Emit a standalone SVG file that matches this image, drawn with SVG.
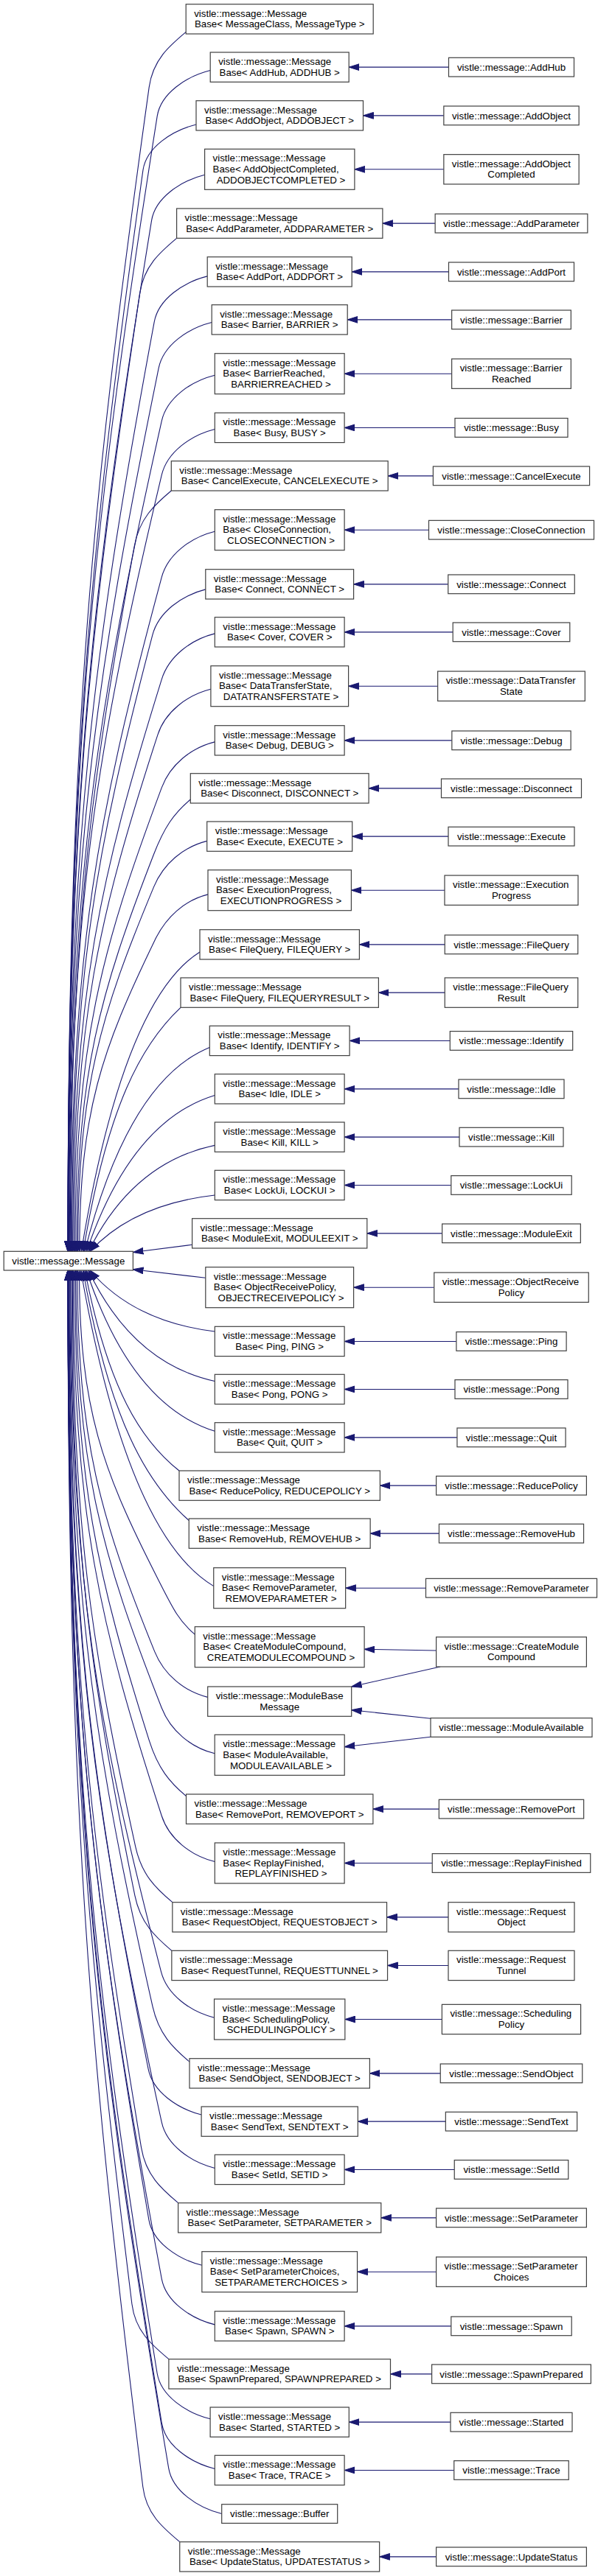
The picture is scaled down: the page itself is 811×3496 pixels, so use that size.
<svg xmlns="http://www.w3.org/2000/svg" width="811" height="3496" viewBox="0 0 811 3496">
<defs>
<marker id="ar" viewBox="0 0 14 10" refX="14" refY="5" markerWidth="14" markerHeight="10" markerUnits="userSpaceOnUse" orient="auto-start-reverse"><path d="M0,0.6 L14,5 L0,9.4 z" fill="#191970" stroke="#191970" stroke-width="1"/></marker>
</defs>
<style>
.n rect{fill:#fff;stroke:#404040;stroke-width:1.2}
text{font-family:"Liberation Sans",Arial,Helvetica,sans-serif;font-size:13.3px;fill:#000}
.c{text-anchor:middle}
#edges path{fill:none;stroke:#191970;stroke-width:1.1}
#edges .s{marker-start:url(#ar)}
#edges .t{marker-end:url(#ar)}
</style>
<rect x="0" y="0" width="811" height="3496" fill="#fff"/>
<g id="edges">
<path class="s" d="M92,1698.3 C92,987.4 125.1,671.4 202.2,118.45 C207.4,80.95 229.7,62.35 252.2,43.45"/>
<path class="s" d="M92,1698.3 C92,1005 128.4,696.8 213.2,157.55 C218.1,126.55 252.8,103.65 285.2,95.55"/>
<path class="s" d="M92,1698.3 C92,1038 122.6,744.5 193.95,230.95 C198.3,199.95 233.6,177.05 265.95,168.95"/>
<path class="s" d="M92,1698.3 C92,1068.75 126.05,788.95 205.55,299.3 C210.55,268.3 245.15,245.4 277.55,237.3"/>
<path class="s" d="M92.2,1698.3 C92.2,1113.3 121.4,853.3 189.55,398.3 C195.15,360.8 217.05,342.2 239.55,323.3"/>
<path class="s" d="M92.5,1698.3 C92.5,1130.65 127.5,878.35 209.2,436.85 C214.9,405.85 248.8,382.95 281.2,374.85"/>
<path class="s" d="M92.9,1698.3 C92.9,1158.8 129.6,919.05 215.2,499.45 C221.5,468.45 254.8,445.55 287.2,437.45"/>
<path class="s" d="M93.5,1698.3 C93.5,1191.1 131.2,965.7 219.3,571.2 C226.2,540.2 258.9,517.3 291.3,509.2"/>
<path class="s" d="M94.3,1698.3 C94.3,1224.1 131.8,1013.3 219.3,644.45 C226.7,613.45 258.9,590.55 291.3,582.45"/>
<path class="s" d="M95.3,1698.3 C95.3,1267.5 121.35,1076.1 182.25,741 C189.05,703.5 209.75,684.9 232.25,666"/>
<path class="s" d="M96.2,1698.3 C96.2,1286.5 133.1,1103.5 219.3,783.2 C227.6,752.2 258.9,729.3 291.3,721.2"/>
<path class="s" d="M97.5,1698.3 C97.5,1321.9 130.3,1154.6 206.8,861.85 C214.9,830.85 246.4,807.95 278.8,799.85"/>
<path class="s" d="M98.7,1698.3 C98.7,1348.9 134.9,1193.65 219.3,921.85 C228.9,890.85 258.9,867.95 291.3,859.85"/>
<path class="s" d="M100.3,1698.3 C100.3,1382.85 134.35,1242.65 213.85,997.3 C223.85,966.3 253.45,943.4 285.85,935.3"/>
<path class="s" d="M102,1698.3 C102,1415.05 137.2,1289.15 219.3,1068.85 C230.9,1037.85 258.9,1014.95 291.3,1006.85"/>
<path class="s" d="M104,1698.3 C104,1456.1 135.3,1348.4 208.3,1160 C222.8,1122.5 235.8,1103.9 258.3,1085"/>
<path class="s" d="M105.6,1698.3 C105.6,1475.6 136.5,1376.55 208.7,1203.35 C221.6,1172.35 248.3,1149.45 280.7,1141.35"/>
<path class="s" d="M107.8,1698.3 C107.8,1508.2 138.5,1423.7 210,1275.9 C225,1244.9 249.6,1222 282,1213.9"/>
<path class="s" d="M110.3,1698.3 C150.5,1454.5 206.7,1332.55 271,1291.95"/>
<path class="s" d="M112.9,1698.3 C145.9,1499.7 192.2,1416.95 245,1367.3"/>
<path class="s" d="M114.9,1698.3 C157.25,1532.2 216.5,1449.15 284.3,1421.45"/>
<path class="s" d="M117.4,1698.3 C160.9,1571.25 221.7,1507.75 291.3,1486.55"/>
<path class="s" d="M120.1,1698.3 C162.9,1611.9 222.8,1568.75 291.3,1554.35"/>
<path class="s" d="M122,1698.3 C164.3,1652.55 223.6,1629.65 291.3,1622.05"/>
<path class="s" d="M180.4,1699.5 L260.6,1689.3"/>
<path class="s" d="M180.4,1722.8 L278.8,1734.3"/>
<path class="s" d="M122,1724 C164.3,1773.8 223.6,1798.75 291.3,1807.05"/>
<path class="s" d="M119.9,1724 C162.75,1814.3 222.7,1859.5 291.3,1874.55"/>
<path class="s" d="M117.1,1724 C160.65,1855 221.6,1920.55 291.3,1942.35"/>
<path class="s" d="M115.1,1724 C147.1,1887.2 191.8,1955.2 243,1996"/>
<path class="s" d="M112.6,1724 C148.5,1927.7 198.8,2012.65 256.25,2063.55"/>
<path class="s" d="M109.6,1724 C154.6,1981.2 217.7,2109.7 289.75,2152.6"/>
<path class="s" d="M107.5,1724 C107.5,1912.6 139.5,1996.5 214.3,2143.2 C233.4,2180.7 241.8,2199.3 264.3,2218.2"/>
<path class="s" d="M105,1724 C105,1956.8 136.4,2060.25 209.7,2241.35 C222.2,2272.35 249.3,2295.25 281.7,2303.35"/>
<path class="s" d="M102.9,1724 C102.9,1991.2 137.8,2110 219.2,2317.8 C231.3,2348.8 258.8,2371.7 291.2,2379.8"/>
<path class="s" d="M101.5,1724 C101.5,2011.4 131.8,2139.15 202.5,2362.65 C214.4,2400.15 230,2418.75 252.5,2437.65"/>
<path class="s" d="M99.4,1724 C99.4,2057.2 135.4,2205.3 219.3,2464.5 C229.3,2495.5 258.9,2518.4 291.3,2526.5"/>
<path class="s" d="M98.3,1724 C98.3,2076.2 123.95,2232.8 183.85,2506.7 C192.05,2544.2 211.35,2562.8 233.85,2581.7"/>
<path class="s" d="M97.1,1724 C97.1,2105.7 122.85,2275.4 182.85,2572.3 C190.45,2609.8 210.35,2628.4 232.85,2647.3"/>
<path class="s" d="M95.6,1724 C95.6,2152.5 132.45,2342.9 218.55,2676.2 C226.55,2707.2 258.15,2730.1 290.55,2738.2"/>
<path class="s" d="M94.8,1724 C94.8,2173.6 128.5,2373.45 207,2723.15 C215.4,2760.65 234.5,2779.25 257,2798.15"/>
<path class="s" d="M93.9,1724 C93.9,2211.8 126.1,2428.55 201.1,2807.95 C207.2,2838.95 240.7,2861.85 273.1,2869.95"/>
<path class="s" d="M93.2,1724 C93.2,2244.4 131,2475.65 219.3,2880.45 C226.1,2911.45 258.9,2934.35 291.3,2942.45"/>
<path class="s" d="M92.8,1724 C92.8,2259.8 122.4,2498 191.6,2914.7 C197.8,2952.2 219.1,2970.8 241.6,2989.7"/>
<path class="s" d="M92.3,1724 C92.3,2303.7 125.15,2561.4 201.85,3012.3 C207.15,3043.3 241.45,3066.2 273.85,3074.3"/>
<path class="s" d="M92.1,1724 C92.1,2340 130.3,2613.75 219.3,3092.85 C225.1,3123.85 258.9,3146.75 291.3,3154.85"/>
<path class="s" d="M92,1724 C92,2355.2 118.1,2635.7 178.9,3126.7 C183.5,3164.2 206.4,3182.8 228.9,3201.7"/>
<path class="s" d="M92,1724 C92,2397.5 128.3,2696.85 213.1,3220.75 C218.1,3251.75 252.7,3274.65 285.1,3282.75"/>
<path class="s" d="M92,1724 C92,2428 130.2,2740.85 219.3,3288.45 C224.3,3319.45 258.9,3342.35 291.3,3350.45"/>
<path class="s" d="M92,1724 C92,2455.5 133,2780.65 228.7,3349.55 C233.9,3380.55 268.3,3403.45 300.7,3411.55"/>
<path class="s" d="M92,1724 C92,2466.8 122.55,2797 193.75,3374.7 C198.35,3412.2 221.25,3430.8 243.75,3449.7"/>
<path class="t" d="M608.5,91.15 L473.2,91.15"/>
<path class="t" d="M601.85,156.85 L492.5,156.85"/>
<path class="t" d="M601.85,229.8 L480.9,229.8"/>
<path class="t" d="M590.15,303.15 L518.9,303.15"/>
<path class="t" d="M608.5,368.85 L477.2,368.85"/>
<path class="t" d="M612.65,433.85 L471.2,433.85"/>
<path class="t" d="M612.65,507.2 L467.1,507.2"/>
<path class="t" d="M617,580.45 L467.1,580.45"/>
<path class="t" d="M587.4,645.85 L526.2,645.85"/>
<path class="t" d="M581.5,719.2 L467.1,719.2"/>
<path class="t" d="M607.75,792.85 L479.6,792.85"/>
<path class="t" d="M614.2,857.85 L467.1,857.85"/>
<path class="t" d="M593.65,931.2 L472.6,931.2"/>
<path class="t" d="M612.85,1004.85 L467.1,1004.85"/>
<path class="t" d="M598.5,1069.85 L500.1,1069.85"/>
<path class="t" d="M608,1135.15 L477.7,1135.15"/>
<path class="t" d="M603,1208.2 L476.4,1208.2"/>
<path class="t" d="M603.25,1281.85 L487.4,1281.85"/>
<path class="t" d="M603.25,1347.15 L513.4,1347.15"/>
<path class="t" d="M610.3,1412.45 L474.1,1412.45"/>
<path class="t" d="M622,1477.85 L467.1,1477.85"/>
<path class="t" d="M623,1543.15 L467.1,1543.15"/>
<path class="t" d="M611.8,1608.45 L467.1,1608.45"/>
<path class="t" d="M599.65,1673.85 L497.8,1673.85"/>
<path class="t" d="M588.75,1747.2 L479.6,1747.2"/>
<path class="t" d="M618.9,1820.45 L467.1,1820.45"/>
<path class="t" d="M617,1885.45 L467.1,1885.45"/>
<path class="t" d="M619.95,1950.85 L467.1,1950.85"/>
<path class="t" d="M591.6,2016.15 L515.4,2016.15"/>
<path class="t" d="M595.45,2081.15 L502.15,2081.15"/>
<path class="t" d="M577.5,2155.2 L468.65,2155.2"/>
<path class="t" d="M591.6,2240 L494.1,2238.3"/>
<path class="t" d="M597,2262 L476.7,2289"/>
<path class="t" d="M584,2332.3 L476.7,2320.7"/>
<path class="t" d="M584,2357.3 L467.2,2370.7"/>
<path class="t" d="M595.35,2455.15 L505.9,2455.15"/>
<path class="t" d="M586.25,2528.5 L467.1,2528.5"/>
<path class="t" d="M608,2601.85 L524.55,2601.85"/>
<path class="t" d="M608,2667.45 L525.55,2667.45"/>
<path class="t" d="M599.4,2740.5 L467.85,2740.5"/>
<path class="t" d="M597.25,2813.85 L501.4,2813.85"/>
<path class="t" d="M604.35,2879.15 L485.3,2879.15"/>
<path class="t" d="M616.25,2944.45 L467.1,2944.45"/>
<path class="t" d="M591.6,3009.85 L516.8,3009.85"/>
<path class="t" d="M591.6,3083.2 L484.55,3083.2"/>
<path class="t" d="M611.8,3156.85 L467.1,3156.85"/>
<path class="t" d="M585.6,3221.85 L529.5,3221.85"/>
<path class="t" d="M611,3287.15 L473.3,3287.15"/>
<path class="t" d="M615.75,3352.45 L467.1,3352.45"/>
<path class="t" d="M591.6,3469.85 L514.65,3469.85"/>
</g>
<g id="root" class="n"><rect x="5.2" y="1698.3" width="175.2" height="25.7"/><text class="c" x="92.8" y="1715.85">vistle::message::Message</text></g>
<g id="mb-messagetype" class="n"><rect x="252.2" y="5.7" width="254" height="40.3"/><text x="263.2" y="22.6">vistle::message::Message</text><text class="c" x="379.2" y="37.3">Base&lt; MessageClass, MessageType &gt;</text></g>
<g id="mb-addhub" class="n"><rect x="285.2" y="71" width="188" height="40.3"/><text x="296.2" y="87.9">vistle::message::Message</text><text class="c" x="379.2" y="102.6">Base&lt; AddHub, ADDHUB &gt;</text></g>
<g id="mb-addobject" class="n"><rect x="266" y="136.7" width="226.5" height="40.3"/><text x="277" y="153.6">vistle::message::Message</text><text class="c" x="379.2" y="168.3">Base&lt; AddObject, ADDOBJECT &gt;</text></g>
<g id="mb-addobjectcompleted" class="n"><rect x="277.6" y="202.3" width="203.3" height="55"/><text x="288.6" y="219.2">vistle::message::Message</text><text x="288.6" y="233.9">Base&lt; AddObjectCompleted,</text><text class="c" x="381" y="248.6">ADDOBJECTCOMPLETED &gt;</text></g>
<g id="mb-addparameter" class="n"><rect x="239.6" y="283" width="279.3" height="40.3"/><text x="250.6" y="299.9">vistle::message::Message</text><text class="c" x="379.2" y="314.6">Base&lt; AddParameter, ADDPARAMETER &gt;</text></g>
<g id="mb-addport" class="n"><rect x="281.2" y="348.7" width="196" height="40.3"/><text x="292.2" y="365.6">vistle::message::Message</text><text class="c" x="379.2" y="380.3">Base&lt; AddPort, ADDPORT &gt;</text></g>
<g id="mb-barrier" class="n"><rect x="287.2" y="413.7" width="184" height="40.3"/><text x="298.2" y="430.6">vistle::message::Message</text><text class="c" x="379.2" y="445.3">Base&lt; Barrier, BARRIER &gt;</text></g>
<g id="mb-barrierreached" class="n"><rect x="291.3" y="479.7" width="175.8" height="55"/><text x="302.3" y="496.6">vistle::message::Message</text><text x="302.3" y="511.3">Base&lt; BarrierReached,</text><text class="c" x="381" y="526">BARRIERREACHED &gt;</text></g>
<g id="mb-busy" class="n"><rect x="291.3" y="560.3" width="175.8" height="40.3"/><text x="302.3" y="577.2">vistle::message::Message</text><text class="c" x="379.2" y="591.9">Base&lt; Busy, BUSY &gt;</text></g>
<g id="mb-cancelexecute" class="n"><rect x="232.3" y="625.7" width="293.9" height="40.3"/><text x="243.3" y="642.6">vistle::message::Message</text><text class="c" x="379.2" y="657.3">Base&lt; CancelExecute, CANCELEXECUTE &gt;</text></g>
<g id="mb-closeconnection" class="n"><rect x="291.3" y="691.7" width="175.8" height="55"/><text x="302.3" y="708.6">vistle::message::Message</text><text x="302.3" y="723.3">Base&lt; CloseConnection,</text><text class="c" x="381" y="738">CLOSECONNECTION &gt;</text></g>
<g id="mb-connect" class="n"><rect x="278.8" y="772.7" width="200.8" height="40.3"/><text x="289.8" y="789.6">vistle::message::Message</text><text class="c" x="379.2" y="804.3">Base&lt; Connect, CONNECT &gt;</text></g>
<g id="mb-cover" class="n"><rect x="291.3" y="837.7" width="175.8" height="40.3"/><text x="302.3" y="854.6">vistle::message::Message</text><text class="c" x="379.2" y="869.3">Base&lt; Cover, COVER &gt;</text></g>
<g id="mb-datatransferstate" class="n"><rect x="285.9" y="903.7" width="186.7" height="55"/><text x="296.9" y="920.6">vistle::message::Message</text><text x="296.9" y="935.3">Base&lt; DataTransferState,</text><text class="c" x="381" y="950">DATATRANSFERSTATE &gt;</text></g>
<g id="mb-debug" class="n"><rect x="291.3" y="984.7" width="175.8" height="40.3"/><text x="302.3" y="1001.6">vistle::message::Message</text><text class="c" x="379.2" y="1016.3">Base&lt; Debug, DEBUG &gt;</text></g>
<g id="mb-disconnect" class="n"><rect x="258.3" y="1049.7" width="241.8" height="40.3"/><text x="269.3" y="1066.6">vistle::message::Message</text><text class="c" x="379.2" y="1081.3">Base&lt; Disconnect, DISCONNECT &gt;</text></g>
<g id="mb-execute" class="n"><rect x="280.7" y="1115" width="197" height="40.3"/><text x="291.7" y="1131.9">vistle::message::Message</text><text class="c" x="379.2" y="1146.6">Base&lt; Execute, EXECUTE &gt;</text></g>
<g id="mb-executionprogress" class="n"><rect x="282" y="1180.7" width="194.4" height="55"/><text x="293" y="1197.6">vistle::message::Message</text><text x="293" y="1212.3">Base&lt; ExecutionProgress,</text><text class="c" x="381" y="1227">EXECUTIONPROGRESS &gt;</text></g>
<g id="mb-filequery" class="n"><rect x="271" y="1261.7" width="216.4" height="40.3"/><text x="282" y="1278.6">vistle::message::Message</text><text class="c" x="379.2" y="1293.3">Base&lt; FileQuery, FILEQUERY &gt;</text></g>
<g id="mb-filequeryresult" class="n"><rect x="245" y="1327" width="268.4" height="40.3"/><text x="256" y="1343.9">vistle::message::Message</text><text class="c" x="379.2" y="1358.6">Base&lt; FileQuery, FILEQUERYRESULT &gt;</text></g>
<g id="mb-identify" class="n"><rect x="284.3" y="1392.3" width="189.8" height="40.3"/><text x="295.3" y="1409.2">vistle::message::Message</text><text class="c" x="379.2" y="1423.9">Base&lt; Identify, IDENTIFY &gt;</text></g>
<g id="mb-idle" class="n"><rect x="291.3" y="1457.7" width="175.8" height="40.3"/><text x="302.3" y="1474.6">vistle::message::Message</text><text class="c" x="379.2" y="1489.3">Base&lt; Idle, IDLE &gt;</text></g>
<g id="mb-kill" class="n"><rect x="291.3" y="1523" width="175.8" height="40.3"/><text x="302.3" y="1539.9">vistle::message::Message</text><text class="c" x="379.2" y="1554.6">Base&lt; Kill, KILL &gt;</text></g>
<g id="mb-lockui" class="n"><rect x="291.3" y="1588.3" width="175.8" height="40.3"/><text x="302.3" y="1605.2">vistle::message::Message</text><text class="c" x="379.2" y="1619.9">Base&lt; LockUi, LOCKUI &gt;</text></g>
<g id="mb-moduleexit" class="n"><rect x="260.6" y="1653.7" width="237.2" height="40.3"/><text x="271.6" y="1670.6">vistle::message::Message</text><text class="c" x="379.2" y="1685.3">Base&lt; ModuleExit, MODULEEXIT &gt;</text></g>
<g id="mb-objectreceivepolicy" class="n"><rect x="278.8" y="1719.7" width="200.8" height="55"/><text x="289.8" y="1736.6">vistle::message::Message</text><text x="289.8" y="1751.3">Base&lt; ObjectReceivePolicy,</text><text class="c" x="381" y="1766">OBJECTRECEIVEPOLICY &gt;</text></g>
<g id="mb-ping" class="n"><rect x="291.3" y="1800.3" width="175.8" height="40.3"/><text x="302.3" y="1817.2">vistle::message::Message</text><text class="c" x="379.2" y="1831.9">Base&lt; Ping, PING &gt;</text></g>
<g id="mb-pong" class="n"><rect x="291.3" y="1865.3" width="175.8" height="40.3"/><text x="302.3" y="1882.2">vistle::message::Message</text><text class="c" x="379.2" y="1896.9">Base&lt; Pong, PONG &gt;</text></g>
<g id="mb-quit" class="n"><rect x="291.3" y="1930.7" width="175.8" height="40.3"/><text x="302.3" y="1947.6">vistle::message::Message</text><text class="c" x="379.2" y="1962.3">Base&lt; Quit, QUIT &gt;</text></g>
<g id="mb-reducepolicy" class="n"><rect x="243" y="1996" width="272.4" height="40.3"/><text x="254" y="2012.9">vistle::message::Message</text><text class="c" x="379.2" y="2027.6">Base&lt; ReducePolicy, REDUCEPOLICY &gt;</text></g>
<g id="mb-removehub" class="n"><rect x="256.25" y="2061" width="245.9" height="40.3"/><text x="267.25" y="2077.9">vistle::message::Message</text><text class="c" x="379.2" y="2092.6">Base&lt; RemoveHub, REMOVEHUB &gt;</text></g>
<g id="mb-removeparameter" class="n"><rect x="289.75" y="2127.7" width="178.9" height="55"/><text x="300.75" y="2144.6">vistle::message::Message</text><text x="300.75" y="2159.3">Base&lt; RemoveParameter,</text><text class="c" x="381" y="2174">REMOVEPARAMETER &gt;</text></g>
<g id="mb-createmodulecompound" class="n"><rect x="264.3" y="2207.7" width="229.8" height="55"/><text x="275.3" y="2224.6">vistle::message::Message</text><text x="275.3" y="2239.3">Base&lt; CreateModuleCompound,</text><text class="c" x="381" y="2254">CREATEMODULECOMPOUND &gt;</text></g>
<g id="modulebasemessage" class="n"><rect x="281.7" y="2289" width="195" height="40.3"/><text x="292.7" y="2305.9">vistle::message::ModuleBase</text><text class="c" x="379.2" y="2320.6">Message</text></g>
<g id="mb-moduleavailable" class="n"><rect x="291.2" y="2354.3" width="176" height="55"/><text x="302.2" y="2371.2">vistle::message::Message</text><text x="302.2" y="2385.9">Base&lt; ModuleAvailable,</text><text class="c" x="381" y="2400.6">MODULEAVAILABLE &gt;</text></g>
<g id="mb-removeport" class="n"><rect x="252.5" y="2435" width="253.4" height="40.3"/><text x="263.5" y="2451.9">vistle::message::Message</text><text class="c" x="379.2" y="2466.6">Base&lt; RemovePort, REMOVEPORT &gt;</text></g>
<g id="mb-replayfinished" class="n"><rect x="291.3" y="2501" width="175.8" height="55"/><text x="302.3" y="2517.9">vistle::message::Message</text><text x="302.3" y="2532.6">Base&lt; ReplayFinished,</text><text class="c" x="381" y="2547.3">REPLAYFINISHED &gt;</text></g>
<g id="mb-requestobject" class="n"><rect x="233.85" y="2581.7" width="290.7" height="40.3"/><text x="244.85" y="2598.6">vistle::message::Message</text><text class="c" x="379.2" y="2613.3">Base&lt; RequestObject, REQUESTOBJECT &gt;</text></g>
<g id="mb-requesttunnel" class="n"><rect x="232.85" y="2647.3" width="292.7" height="40.3"/><text x="243.85" y="2664.2">vistle::message::Message</text><text class="c" x="379.2" y="2678.9">Base&lt; RequestTunnel, REQUESTTUNNEL &gt;</text></g>
<g id="mb-schedulingpolicy" class="n"><rect x="290.55" y="2713" width="177.3" height="55"/><text x="301.55" y="2729.9">vistle::message::Message</text><text x="301.55" y="2744.6">Base&lt; SchedulingPolicy,</text><text class="c" x="381" y="2759.3">SCHEDULINGPOLICY &gt;</text></g>
<g id="mb-sendobject" class="n"><rect x="257" y="2793.7" width="244.4" height="40.3"/><text x="268" y="2810.6">vistle::message::Message</text><text class="c" x="379.2" y="2825.3">Base&lt; SendObject, SENDOBJECT &gt;</text></g>
<g id="mb-sendtext" class="n"><rect x="273.1" y="2859" width="212.2" height="40.3"/><text x="284.1" y="2875.9">vistle::message::Message</text><text class="c" x="379.2" y="2890.6">Base&lt; SendText, SENDTEXT &gt;</text></g>
<g id="mb-setid" class="n"><rect x="291.3" y="2924.3" width="175.8" height="40.3"/><text x="302.3" y="2941.2">vistle::message::Message</text><text class="c" x="379.2" y="2955.9">Base&lt; SetId, SETID &gt;</text></g>
<g id="mb-setparameter" class="n"><rect x="241.6" y="2989.7" width="275.2" height="40.3"/><text x="252.6" y="3006.6">vistle::message::Message</text><text class="c" x="379.2" y="3021.3">Base&lt; SetParameter, SETPARAMETER &gt;</text></g>
<g id="mb-setparameterchoices" class="n"><rect x="273.85" y="3055.7" width="210.7" height="55"/><text x="284.85" y="3072.6">vistle::message::Message</text><text x="284.85" y="3087.3">Base&lt; SetParameterChoices,</text><text class="c" x="381" y="3102">SETPARAMETERCHOICES &gt;</text></g>
<g id="mb-spawn" class="n"><rect x="291.3" y="3136.7" width="175.8" height="40.3"/><text x="302.3" y="3153.6">vistle::message::Message</text><text class="c" x="379.2" y="3168.3">Base&lt; Spawn, SPAWN &gt;</text></g>
<g id="mb-spawnprepared" class="n"><rect x="228.9" y="3201.7" width="300.6" height="40.3"/><text x="239.9" y="3218.6">vistle::message::Message</text><text class="c" x="379.2" y="3233.3">Base&lt; SpawnPrepared, SPAWNPREPARED &gt;</text></g>
<g id="mb-started" class="n"><rect x="285.1" y="3267" width="188.2" height="40.3"/><text x="296.1" y="3283.9">vistle::message::Message</text><text class="c" x="379.2" y="3298.6">Base&lt; Started, STARTED &gt;</text></g>
<g id="mb-trace" class="n"><rect x="291.3" y="3332.3" width="175.8" height="40.3"/><text x="302.3" y="3349.2">vistle::message::Message</text><text class="c" x="379.2" y="3363.9">Base&lt; Trace, TRACE &gt;</text></g>
<g id="buffer" class="n"><rect x="300.7" y="3398.7" width="157" height="25.7"/><text class="c" x="379.2" y="3416.25">vistle::message::Buffer</text></g>
<g id="mb-updatestatus" class="n"><rect x="243.75" y="3449.7" width="270.9" height="40.3"/><text x="254.75" y="3466.6">vistle::message::Message</text><text class="c" x="379.2" y="3481.3">Base&lt; UpdateStatus, UPDATESTATUS &gt;</text></g>
<g id="addhub" class="n"><rect x="608.5" y="78.3" width="170" height="25.7"/><text class="c" x="693.5" y="95.85">vistle::message::AddHub</text></g>
<g id="addobject" class="n"><rect x="601.85" y="144" width="183.3" height="25.7"/><text class="c" x="693.5" y="161.55">vistle::message::AddObject</text></g>
<g id="addobjectcompleted" class="n"><rect x="601.85" y="209.65" width="183.3" height="40.3"/><text x="612.85" y="226.55">vistle::message::AddObject</text><text class="c" x="693.5" y="241.25">Completed</text></g>
<g id="addparameter" class="n"><rect x="590.15" y="290.3" width="206.7" height="25.7"/><text class="c" x="693.5" y="307.85">vistle::message::AddParameter</text></g>
<g id="addport" class="n"><rect x="608.5" y="356" width="170" height="25.7"/><text class="c" x="693.5" y="373.55">vistle::message::AddPort</text></g>
<g id="barrier" class="n"><rect x="612.65" y="421" width="161.7" height="25.7"/><text class="c" x="693.5" y="438.55">vistle::message::Barrier</text></g>
<g id="barrierreached" class="n"><rect x="612.65" y="487.05" width="161.7" height="40.3"/><text x="623.65" y="503.95">vistle::message::Barrier</text><text class="c" x="693.5" y="518.65">Reached</text></g>
<g id="busy" class="n"><rect x="617" y="567.6" width="153" height="25.7"/><text class="c" x="693.5" y="585.15">vistle::message::Busy</text></g>
<g id="cancelexecute" class="n"><rect x="587.4" y="633" width="212.2" height="25.7"/><text class="c" x="693.5" y="650.55">vistle::message::CancelExecute</text></g>
<g id="closeconnection" class="n"><rect x="581.5" y="706.35" width="224" height="25.7"/><text class="c" x="693.5" y="723.9">vistle::message::CloseConnection</text></g>
<g id="connect" class="n"><rect x="607.75" y="780" width="171.5" height="25.7"/><text class="c" x="693.5" y="797.55">vistle::message::Connect</text></g>
<g id="cover" class="n"><rect x="614.2" y="845" width="158.6" height="25.7"/><text class="c" x="693.5" y="862.55">vistle::message::Cover</text></g>
<g id="datatransferstate" class="n"><rect x="593.65" y="911.05" width="199.7" height="40.3"/><text x="604.65" y="927.95">vistle::message::DataTransfer</text><text class="c" x="693.5" y="942.65">State</text></g>
<g id="debug" class="n"><rect x="612.85" y="992" width="161.3" height="25.7"/><text class="c" x="693.5" y="1009.55">vistle::message::Debug</text></g>
<g id="disconnect" class="n"><rect x="598.5" y="1057" width="190" height="25.7"/><text class="c" x="693.5" y="1074.55">vistle::message::Disconnect</text></g>
<g id="execute" class="n"><rect x="608" y="1122.3" width="171" height="25.7"/><text class="c" x="693.5" y="1139.85">vistle::message::Execute</text></g>
<g id="executionprogress" class="n"><rect x="603" y="1188.05" width="181" height="40.3"/><text x="614" y="1204.95">vistle::message::Execution</text><text class="c" x="693.5" y="1219.65">Progress</text></g>
<g id="filequery" class="n"><rect x="603.25" y="1269" width="180.5" height="25.7"/><text class="c" x="693.5" y="1286.55">vistle::message::FileQuery</text></g>
<g id="filequeryresult" class="n"><rect x="603.25" y="1327" width="180.5" height="40.3"/><text x="614.25" y="1343.9">vistle::message::FileQuery</text><text class="c" x="693.5" y="1358.6">Result</text></g>
<g id="identify" class="n"><rect x="610.3" y="1399.6" width="166.4" height="25.7"/><text class="c" x="693.5" y="1417.15">vistle::message::Identify</text></g>
<g id="idle" class="n"><rect x="622" y="1465" width="143" height="25.7"/><text class="c" x="693.5" y="1482.55">vistle::message::Idle</text></g>
<g id="kill" class="n"><rect x="623" y="1530.3" width="141" height="25.7"/><text class="c" x="693.5" y="1547.85">vistle::message::Kill</text></g>
<g id="lockui" class="n"><rect x="611.8" y="1595.6" width="163.4" height="25.7"/><text class="c" x="693.5" y="1613.15">vistle::message::LockUi</text></g>
<g id="moduleexit" class="n"><rect x="599.65" y="1661" width="187.7" height="25.7"/><text class="c" x="693.5" y="1678.55">vistle::message::ModuleExit</text></g>
<g id="objectreceivepolicy" class="n"><rect x="588.75" y="1727.05" width="209.5" height="40.3"/><text x="599.75" y="1743.95">vistle::message::ObjectReceive</text><text class="c" x="693.5" y="1758.65">Policy</text></g>
<g id="ping" class="n"><rect x="618.9" y="1807.6" width="149.2" height="25.7"/><text class="c" x="693.5" y="1825.15">vistle::message::Ping</text></g>
<g id="pong" class="n"><rect x="617" y="1872.6" width="153" height="25.7"/><text class="c" x="693.5" y="1890.15">vistle::message::Pong</text></g>
<g id="quit" class="n"><rect x="619.95" y="1938" width="147.1" height="25.7"/><text class="c" x="693.5" y="1955.55">vistle::message::Quit</text></g>
<g id="reducepolicy" class="n"><rect x="591.6" y="2003.3" width="203.8" height="25.7"/><text class="c" x="693.5" y="2020.85">vistle::message::ReducePolicy</text></g>
<g id="removehub" class="n"><rect x="595.45" y="2068.3" width="196.1" height="25.7"/><text class="c" x="693.5" y="2085.85">vistle::message::RemoveHub</text></g>
<g id="removeparameter" class="n"><rect x="577.5" y="2142.35" width="232" height="25.7"/><text class="c" x="693.5" y="2159.9">vistle::message::RemoveParameter</text></g>
<g id="createmodulecompound" class="n"><rect x="591.6" y="2221.7" width="203.8" height="40.3"/><text x="602.6" y="2238.6">vistle::message::CreateModule</text><text class="c" x="693.5" y="2253.3">Compound</text></g>
<g id="moduleavailable" class="n"><rect x="584" y="2331.65" width="219" height="25.7"/><text class="c" x="693.5" y="2349.2">vistle::message::ModuleAvailable</text></g>
<g id="removeport" class="n"><rect x="595.35" y="2442.3" width="196.3" height="25.7"/><text class="c" x="693.5" y="2459.85">vistle::message::RemovePort</text></g>
<g id="replayfinished" class="n"><rect x="586.25" y="2515.65" width="214.5" height="25.7"/><text class="c" x="693.5" y="2533.2">vistle::message::ReplayFinished</text></g>
<g id="requestobject" class="n"><rect x="608" y="2581.7" width="171" height="40.3"/><text x="619" y="2598.6">vistle::message::Request</text><text class="c" x="693.5" y="2613.3">Object</text></g>
<g id="requesttunnel" class="n"><rect x="608" y="2647.3" width="171" height="40.3"/><text x="619" y="2664.2">vistle::message::Request</text><text class="c" x="693.5" y="2678.9">Tunnel</text></g>
<g id="schedulingpolicy" class="n"><rect x="599.4" y="2720.35" width="188.2" height="40.3"/><text x="610.4" y="2737.25">vistle::message::Scheduling</text><text class="c" x="693.5" y="2751.95">Policy</text></g>
<g id="sendobject" class="n"><rect x="597.25" y="2801" width="192.5" height="25.7"/><text class="c" x="693.5" y="2818.55">vistle::message::SendObject</text></g>
<g id="sendtext" class="n"><rect x="604.35" y="2866.3" width="178.3" height="25.7"/><text class="c" x="693.5" y="2883.85">vistle::message::SendText</text></g>
<g id="setid" class="n"><rect x="616.25" y="2931.6" width="154.5" height="25.7"/><text class="c" x="693.5" y="2949.15">vistle::message::SetId</text></g>
<g id="setparameter" class="n"><rect x="591.6" y="2997" width="203.8" height="25.7"/><text class="c" x="693.5" y="3014.55">vistle::message::SetParameter</text></g>
<g id="setparameterchoices" class="n"><rect x="591.6" y="3063.05" width="203.8" height="40.3"/><text x="602.6" y="3079.95">vistle::message::SetParameter</text><text class="c" x="693.5" y="3094.65">Choices</text></g>
<g id="spawn" class="n"><rect x="611.8" y="3144" width="163.4" height="25.7"/><text class="c" x="693.5" y="3161.55">vistle::message::Spawn</text></g>
<g id="spawnprepared" class="n"><rect x="585.6" y="3209" width="215.8" height="25.7"/><text class="c" x="693.5" y="3226.55">vistle::message::SpawnPrepared</text></g>
<g id="started" class="n"><rect x="611" y="3274.3" width="165" height="25.7"/><text class="c" x="693.5" y="3291.85">vistle::message::Started</text></g>
<g id="trace" class="n"><rect x="615.75" y="3339.6" width="155.5" height="25.7"/><text class="c" x="693.5" y="3357.15">vistle::message::Trace</text></g>
<g id="updatestatus" class="n"><rect x="591.6" y="3457" width="203.8" height="25.7"/><text class="c" x="693.5" y="3474.55">vistle::message::UpdateStatus</text></g>
</svg>
